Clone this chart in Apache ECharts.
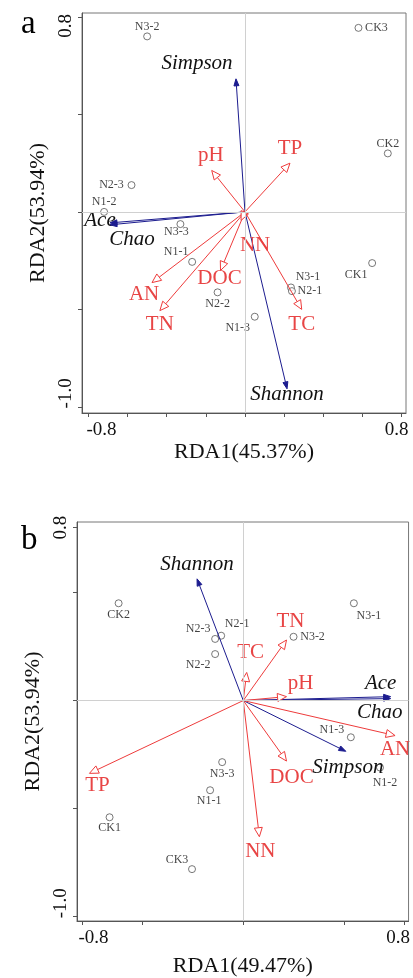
<!DOCTYPE html>
<html>
<head>
    <meta charset="utf-8">
    <title>RDA</title>
    <script src="https://cdn.jsdelivr.net/npm/echarts@6.0.0/dist/echarts.min.js"></script>
    <style>
        body { margin: 0; background: #fff; }
        #chart { width: 413px; height: 978px; }
    </style>
</head>
<body>
    <div id="chart"></div>
    <script>
        // sample sites
        var aSamples = ['N3-2', 'CK3', 'CK2', 'N2-3', 'N1-2', 'N3-3', 'N1-1', 'N2-2', 'N1-3', 'N3-1', 'N2-1', 'CK1'];
        var aSampleX = [-0.50, 0.58, 0.73, -0.58, -0.72, -0.33, -0.27, -0.14, 0.05, 0.235, 0.24, 0.65];
        var aSampleY = [0.72, 0.755, 0.24, 0.11, 0.0, -0.05, -0.205, -0.33, -0.43, -0.31, -0.325, -0.21];

        var bSamples = ['CK2', 'N3-1', 'N2-1', 'N2-3', 'N2-2', 'N3-2', 'N1-3', 'N1-2', 'N3-3', 'N1-1', 'CK1', 'CK3'];
        var bSampleX = [-0.62, 0.55, -0.11, -0.14, -0.14, 0.25, 0.535, 0.68, -0.105, -0.165, -0.665, -0.255];
        var bSampleY = [0.45, 0.45, 0.30, 0.285, 0.215, 0.295, -0.17, -0.31, -0.285, -0.415, -0.54, -0.78];

        // environmental factors (red arrows)
        var envNames = ['pH', 'TP', 'AN', 'TN', 'DOC', 'NN', 'TC'];
        var aEnvX = [-0.17, 0.23, -0.475, -0.435, -0.125, -0.02, 0.29];
        var aEnvY = [0.17, 0.20, -0.29, -0.405, -0.24, -0.035, -0.40];
        var bEnvX = [0.215, -0.765, 0.755, 0.215, 0.215, 0.08, 0.017];
        var bEnvY = [0.018, -0.337, -0.162, 0.28, -0.28, -0.63, 0.13];

        // diversity indices (blue arrows)
        var idxNames = ['Simpson', 'Shannon', 'Ace', 'Chao'];
        var aIdxX = [-0.046, 0.215, -0.69, -0.69];
        var aIdxY = [0.546, -0.726, -0.045, -0.053];
        var bIdxX = [0.51, -0.23, 0.733, 0.733];
        var bIdxY = [-0.235, 0.563, 0.018, 0.009];

        // axis ticks and labels
        var aXTicks = [-0.8, -0.6, -0.4, -0.2, 0, 0.2, 0.4, 0.6, 0.8];
        var aYTicks = [-0.8, -0.4, 0, 0.4, 0.8];
        var bXTicks = [-0.8, -0.5, 0, 0.5, 0.8];
        var bYTicks = [-1.0, -0.5, 0, 0.5, 0.8];
        var aXLabels = {'-0.8': '-0.8', '0.8': '0.8'};
        var aYLabels = {'-0.8': '-1.0', '0.8': '0.8'};
        var bXLabels = {'-0.8': '-0.8', '0.8': '0.8'};
        var bYLabels = {'-1': '-1.0', '0.8': '0.8'};
        var aXName = 'RDA1(45.37%)', bXName = 'RDA1(49.47%)';
        var yName = 'RDA2(53.94%)';

        // label offsets in pixels (layout only)
        var aSampleOff = {'N3-2': [0, -10], 'CK3': [18, 0], 'CK2': [0, -10], 'N2-3': [-20, 0], 'N1-2': [0, -10],
            'N3-3': [-4, 8], 'N1-1': [-16, -10], 'N2-2': [0, 12], 'N1-3': [-17, 11], 'N3-1': [17, -11], 'N2-1': [18, 0], 'CK1': [-16, 12]};
        var bSampleOff = {'CK2': [0, 12], 'N3-1': [15, 13], 'N2-1': [16, -12], 'N2-3': [-17, -10], 'N2-2': [-17, 11],
            'N3-2': [19, 0], 'N1-3': [-19, -7], 'N1-2': [5, 15], 'N3-3': [0, 12], 'N1-1': [-1, 11], 'CK1': [0, 11], 'CK3': [-15, -9]};
        var aArrowOff = {'pH': [-1, -15], 'TP': [0, -15], 'AN': [-8, 12], 'TN': [0, 14], 'DOC': [-1, 8], 'NN': [14, 25], 'TC': [0, 15],
            'Simpson': [-39, -15], 'Shannon': [0, 6], 'Ace': [-10, -2], 'Chao': [22, 15]};
        var bArrowOff = {'pH': [14, -13], 'TP': [8, 12], 'AN': [0, 14], 'TN': [4, -19], 'DOC': [5, 16], 'NN': [1, 15], 'TC': [4, -20],
            'Simpson': [2, 16], 'Shannon': [0, -14], 'Ace': [-10, -13], 'Chao': [-11, 14]};

        var FONT = '"Liberation Serif", "Times New Roman", serif';
        var RED = '#ee3b3b', RED_TXT = '#e84545', BLUE = '#1c1c8f';

        function sampleSeries(names, xs, ys, offs, idx) {
            return {
                type: 'scatter', xAxisIndex: idx, yAxisIndex: idx, z: 3,
                symbol: 'circle', symbolSize: 7,
                itemStyle: { color: '#fff', borderColor: '#555', borderWidth: 1 },
                label: { show: true, position: 'inside', formatter: '{b}', color: '#111', fontFamily: FONT, fontSize: 12 },
                data: names.map(function (n, i) {
                    return { name: n, value: [xs[i], ys[i]], label: { offset: offs[n] } };
                }),
                markLine: {
                    silent: true, symbol: ['none', 'none'], label: { show: false },
                    lineStyle: { color: '#d0d0d0', type: 'solid', width: 1 },
                    data: [{ xAxis: 0 }, { yAxis: 0 }]
                }
            };
        }

        function arrowSeries(names, xs, ys, offs, idx, color, open, txtFont, txtColor) {
            return {
                type: 'custom', coordinateSystem: 'cartesian2d', xAxisIndex: idx, yAxisIndex: idx, z: 4,
                data: xs.map(function (x, i) { return [x, ys[i], i]; }),
                encode: { x: 0, y: 1 },
                renderItem: function (params, api) {
                    var i = api.value(2);
                    var o = api.coord([0, 0]);
                    var t = api.coord([api.value(0), api.value(1)]);
                    var dx = t[0] - o[0], dy = t[1] - o[1];
                    var len = Math.sqrt(dx * dx + dy * dy);
                    var ux = dx / len, uy = dy / len;
                    var hl = open ? 9 : 7, hw = open ? 4 : 2.5;
                    var bx = t[0] - ux * hl, by = t[1] - uy * hl;
                    var off = offs[names[i]];
                    return {
                        type: 'group',
                        children: [
                            { type: 'line', shape: { x1: o[0], y1: o[1], x2: bx, y2: by }, style: { stroke: color, lineWidth: 1 } },
                            { type: 'polygon', shape: { points: [[t[0], t[1]], [bx - uy * hw, by + ux * hw], [bx + uy * hw, by - ux * hw]] },
                              style: { stroke: color, fill: open ? '#fff' : color, lineWidth: 1 } },
                            { type: 'text', x: t[0] + off[0], y: t[1] + off[1],
                              style: { text: names[i], fill: txtColor, font: txtFont, align: 'center', verticalAlign: 'middle',
                                       textAlign: 'center', textVerticalAlign: 'middle' } }
                        ]
                    };
                }
            };
        }

        function xAxis(idx, min, max, ticks, labels, name, nameGap, padL, padR) {
            return {
                type: 'value', gridIndex: idx, min: min, max: max,
                name: name, nameLocation: 'middle', nameGap: nameGap,
                nameTextStyle: { fontFamily: FONT, fontSize: 22, color: '#111' },
                axisLine: { show: true, onZero: false, lineStyle: { color: '#555' } },
                axisTick: { show: true, length: 4, customValues: ticks, lineStyle: { color: '#555' } },
                splitLine: { show: false },
                axisLabel: {
                    customValues: [-0.8, 0.8], margin: 8, color: '#111', fontFamily: FONT, fontSize: 19,
                    formatter: function (v) {
                        var s = labels[String(v)];
                        return v < 0 ? '{l|' + s + '}' : '{r|' + s + '}';
                    },
                    rich: {
                        l: { fontFamily: FONT, fontSize: 19, color: '#111', padding: [0, 0, 0, padL] },
                        r: { fontFamily: FONT, fontSize: 19, color: '#111', padding: [0, padR, 0, 0] }
                    }
                }
            };
        }

        function yAxis(idx, min, max, ticks, labelVals, labels, padLo, padHi) {
            return {
                type: 'value', gridIndex: idx, min: min, max: max,
                name: yName, nameLocation: 'middle', nameGap: 27,
                nameTextStyle: { fontFamily: FONT, fontSize: 22, color: '#111' },
                axisLine: { show: true, onZero: false, lineStyle: { color: '#555' } },
                axisTick: { show: true, length: 4, customValues: ticks, lineStyle: { color: '#555' } },
                splitLine: { show: false },
                axisLabel: {
                    customValues: labelVals, rotate: 90, margin: 6, color: '#111', fontFamily: FONT, fontSize: 19,
                    formatter: function (v) {
                        var s = labels[String(v)];
                        return v < 0 ? '{lo|' + s + '}' : '{hi|' + s + '}';
                    },
                    rich: {
                        lo: { fontFamily: FONT, fontSize: 19, color: '#111', padding: [0, 0, 0, padLo] },
                        hi: { fontFamily: FONT, fontSize: 19, color: '#111', padding: [0, padHi, 0, 0] }
                    }
                }
            };
        }

        var chart = echarts.init(document.getElementById('chart'), null, { renderer: 'canvas' });
        var idxFont = 'italic 21px ' + FONT;
        var envFont = '21px ' + FONT;

        var option = {
            animation: false,
            backgroundColor: '#fff',
            title: [
                { text: 'a', left: 16, top: 3, textStyle: { fontFamily: FONT, fontSize: 33, fontWeight: 'normal', color: '#000' } },
                { text: 'b', left: 16, top: 519, textStyle: { fontFamily: FONT, fontSize: 33, fontWeight: 'normal', color: '#000' } }
            ],
            grid: [
                { left: 82, top: 13, width: 324, height: 400, show: true, borderColor: '#777', borderWidth: 1 },
                { left: 77, top: 522, width: 334, height: 400, show: true, borderColor: '#777', borderWidth: 1 }
            ],
            xAxis: [
                xAxis(0, -0.833, 0.823, aXTicks, aXLabels, aXName, 26, 26, 10),
                xAxis(1, -0.827, 0.822, bXTicks, bXLabels, bXName, 34, 22, 12)
            ],
            yAxis: [
                yAxis(0, -0.825, 0.816, aYTicks, [-0.8, 0.8], aYLabels, 27, 18),
                yAxis(1, -1.02, 0.826, bYTicks, [-1, 0.8], bYLabels, 27, 0)
            ],
            series: [
                sampleSeries(aSamples, aSampleX, aSampleY, aSampleOff, 0),
                arrowSeries(idxNames, aIdxX, aIdxY, aArrowOff, 0, BLUE, false, idxFont, '#111'),
                arrowSeries(envNames, aEnvX, aEnvY, aArrowOff, 0, RED, true, envFont, RED_TXT),
                sampleSeries(bSamples, bSampleX, bSampleY, bSampleOff, 1),
                arrowSeries(idxNames, bIdxX, bIdxY, bArrowOff, 1, BLUE, false, idxFont, '#111'),
                arrowSeries(envNames, bEnvX, bEnvY, bArrowOff, 1, RED, true, envFont, RED_TXT)
            ]
        };
        chart.setOption(option);
    </script>
</body>
</html>
